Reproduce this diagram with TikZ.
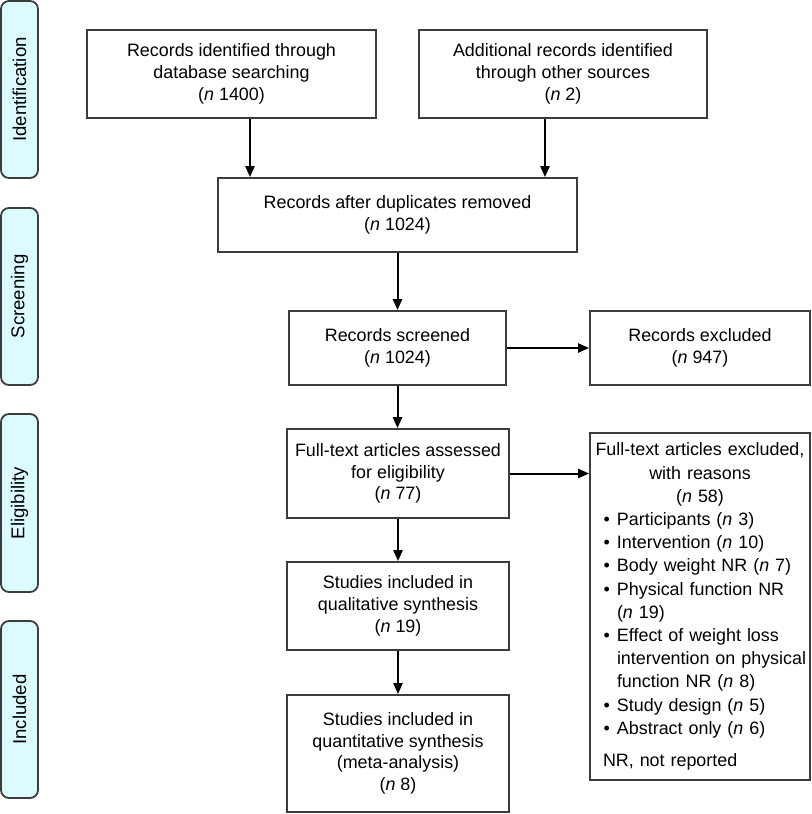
\documentclass[tikz,border=0pt]{standalone}
\usepackage{fontspec}
\setmainfont{Liberation Sans}
\usetikzlibrary{arrows.meta}
\definecolor{stagefill}{HTML}{DBFBFF}
\definecolor{boxline}{HTML}{3C3C3C}
\newcommand\exitem[1]{\hangindent=13.5pt\hangafter=1\noindent\makebox[13.5pt][l]{\hspace{6.8pt}\textbullet}#1\par}
\begin{document}
\begin{tikzpicture}[x=0.5pt,y=-0.5pt,
  every node/.style={font=\fontsize{8.95}{10.85}\selectfont},
  box/.style={draw=boxline, line width=0.95pt, align=center, inner sep=2pt},
  stage/.style={draw=boxline, fill=stagefill, rounded corners=4pt, line width=0.9pt, rotate=90, minimum height=18.5pt, inner sep=1pt, font=\fontsize{9.3}{11}\selectfont},
  arr/.style={-{Triangle[length=5.5pt,width=4.6pt]}, line width=1pt, black}]
\useasboundingbox (0,0) rectangle (812,814);

% stage labels
\node[stage, minimum width=88.5pt] (sid) at (19.5,89.5) {Identification};
\node[stage, minimum width=88.5pt] (ssc) at (19.5,296.5) {Screening};
\node[stage, minimum width=89pt] (sel) at (19.5,503) {Eligibility};
\node[stage, minimum width=88.5pt] (sin) at (19.5,709.5) {Included};

% boxes
\node[box, minimum width=144.5pt, minimum height=44pt] (b1) at (231.5,74)
  {Records identified through\\database searching\\(\textit{n} 1400)};
\node[box, minimum width=144pt, minimum height=44pt] (b2) at (563,74)
  {Additional records identified\\through other sources\\(\textit{n} 2)};
\node[box, minimum width=179.5pt, minimum height=37pt] (b3) at (397.5,215)
  {Records after duplicates removed\\(\textit{n} 1024)};
\node[box, minimum width=108.5pt, minimum height=37pt] (scr) at (397.5,348)
  {Records screened\\(\textit{n} 1024)};
\node[box, minimum width=110pt, minimum height=37pt] (exc) at (700,348)
  {Records excluded\\(\textit{n} 947)};
\node[box, minimum width=111pt, minimum height=44.5pt] (ass) at (398,473.5)
  {Full-text articles assessed\\for eligibility\\(\textit{n} 77)};
\node[box, minimum width=111pt, minimum height=44pt] (qual) at (398,606)
  {Studies included in\\qualitative synthesis\\(\textit{n} 19)};
\node[box, minimum width=111pt, minimum height=58.5pt] (quant) at (398,753.5)
  {Studies included in\\quantitative synthesis\\(meta-analysis)\\(\textit{n} 8)};
\node[box, minimum width=110pt, minimum height=173.5pt, text width=110pt, inner xsep=0pt, align=left,
  font=\fontsize{8.95}{11.6}\selectfont] (ftx) at (700,606.5)
  {{\centering Full-text articles excluded,\\with reasons\\(\textit{n} 58)\par}
   \raggedright
   \exitem{Participants (\textit{n} 3)}
   \exitem{Intervention (\textit{n} 10)}
   \exitem{Body weight NR (\textit{n} 7)}
   \exitem{Physical function NR\newline(\textit{n} 19)}
   \exitem{Effect of weight loss\newline intervention on physical\newline function NR (\textit{n} 8)}
   \exitem{Study design (\textit{n} 5)}
   \exitem{Abstract only (\textit{n} 6)}
   \vspace{4.5pt}
   \noindent\hspace*{6.5pt}NR, not reported\par};

% connectors
\draw[arr] (b1.south -| 250,0) -- (b3.north -| 250,0);
\draw[arr] (b2.south -| 545,0) -- (b3.north -| 545,0);
\draw[arr] (b3.south) -- (scr.north);
\draw[arr] (scr.east) -- (exc.west);
\draw[arr] (scr.south) -- (ass.north -| scr.south);
\draw[arr] (ass.east) -- (ass.east -| ftx.west);
\draw[arr] (ass.south) -- (qual.north);
\draw[arr] (qual.south) -- (quant.north);
\end{tikzpicture}
\end{document}
